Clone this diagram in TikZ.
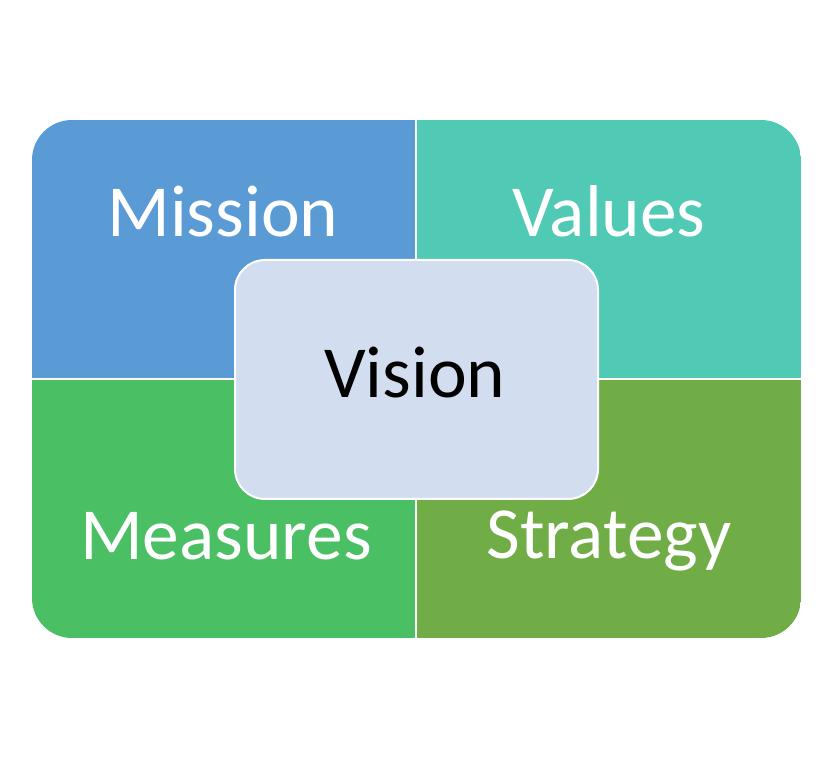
\documentclass[tikz,border=0pt]{standalone}
\usepackage{fontspec}
\setmainfont{Carlito}
\usepackage{xcolor}
\usepackage{tikz}
\usetikzlibrary{positioning}

\definecolor{missionblue}{HTML}{5B9BD5}
\definecolor{valuesteal}{HTML}{50C9B5}
\definecolor{measuresgreen}{HTML}{4BBF64}
\definecolor{strategygreen}{HTML}{70AD47}
\definecolor{visionfill}{HTML}{D2DEEF}

\begin{document}
\begin{tikzpicture}[
  x=0.5pt, y=-0.5pt,
  quad/.style={draw=white, line width=0.6pt},
  word/.style={anchor=base, text=white, font=\fontsize{36.7}{42}\selectfont, inner sep=0pt},
  hub/.style={draw=white, line width=1pt, fill=visionfill, rounded corners=15pt,
    minimum width=181.5pt, minimum height=119.5pt},
]
\useasboundingbox (0,0) rectangle (837,764);
\begin{scope}
  \clip[rounded corners=20pt] (32,120) rectangle (801,638);
  \fill[missionblue] (32,120) rectangle (416,379);
  \fill[valuesteal] (416,120) rectangle (801,379);
  \fill[measuresgreen] (32,379) rectangle (416,638);
  \fill[strategygreen] (416,379) rectangle (801,638);
  \draw[quad] (416,120) -- (416,638);
  \draw[quad] (32,379) -- (801,379);
\end{scope}
\node[word] (mission) at (223,237) {Mission};
\node[word] (values) at (609,237) {Values};
\node[word] (measures) at (226,560) {Measures};
\node[word] (strategy) at (609,559) {Strategy};
\node[hub] (vision) at (416.5,379.5) {};
\node[word, text=black] (visionlbl) at (415,398) {Vision};
\end{tikzpicture}
\end{document}
